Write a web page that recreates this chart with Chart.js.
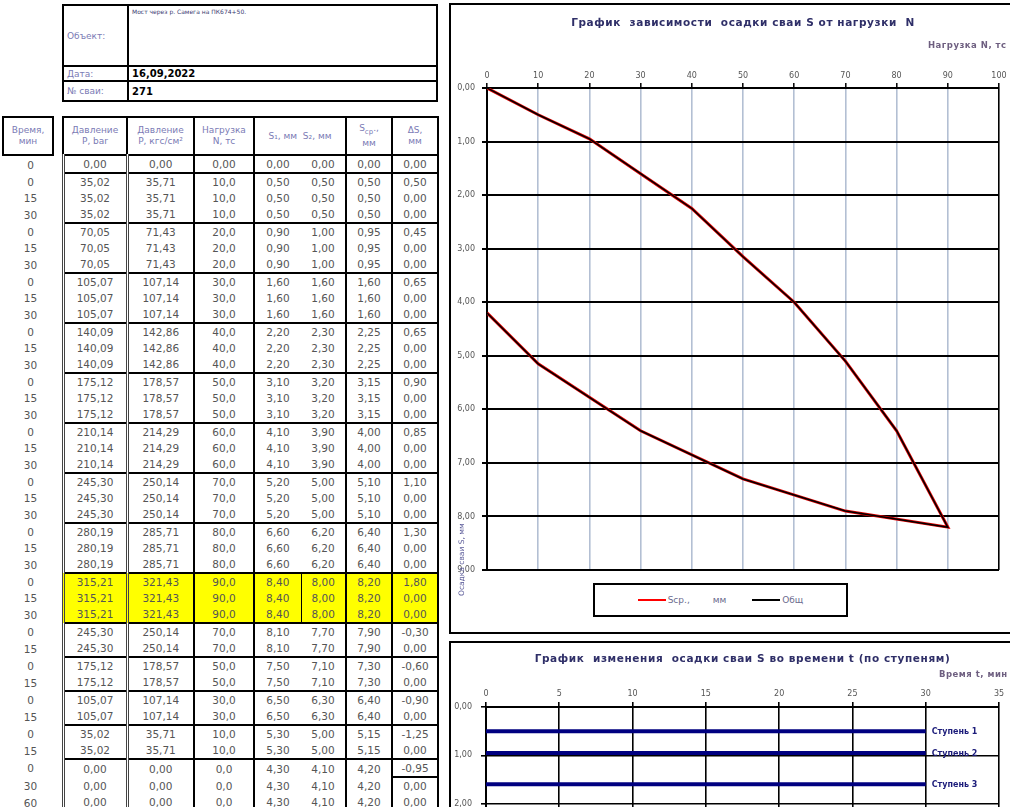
<!DOCTYPE html>
<html lang="ru">
<head>
<meta charset="utf-8">
<title>Испытание сваи № 271</title>
<script src="https://cdn.jsdelivr.net/npm/chart.js@4.4.1/dist/chart.umd.min.js"></script>
<style>
  html, body { margin:0; padding:0; background:#fff; }
  body { width:1010px; height:807px; overflow:hidden; position:relative; font-family:"DejaVu Sans", sans-serif; }
  #head { position:absolute; left:62px; top:4px; width:376px; border-collapse:collapse; table-layout:fixed; }
  #head td { border:2px solid #000; padding:0 3px; font-size:9px; color:#7b7bb5; }
  #head td.val { color:#000; font-weight:bold; font-size:10px; }
  #head td.obj { vertical-align:top; color:#3a3a70; font-size:6px; font-weight:normal; padding-top:2px; }
  #tbl { position:absolute; left:2px; top:116px; border-collapse:collapse; table-layout:fixed; font-size:10.5px; color:#555; }
  #tbl td { padding:0; height:16px; text-align:center; line-height:12px; white-space:nowrap; }
  #tbl th { font-weight:normal; color:#7b7bb5; font-size:9px; line-height:11px; border:2px solid #000; height:36px; padding:0; }
  #tbl th.gap { border:none; }
  #tbl td.t { padding-left:5px; }
  #tbl td.c1 { border-left:3px double #444; border-right:3px double #444; }
  #tbl td.c2, #tbl td.c3, #tbl td.c5, #tbl td.c6, #tbl td.c7 { border-right:2px solid #000; }
  #tbl tr.end td.d { border-bottom:2px solid #000; }
  #tbl tr.hi td.d { background:#ffff00; }
  #tbl tr.hi td.c4 { border-right:1.5px solid #000; }
  #tbl td.boxed { border-bottom:2px solid #000; }
  .box { position:absolute; border:2px solid #000; }
  #box1 { left:449px; top:3px; width:600px; height:627px; }
  #box2 { left:449px; top:641px; width:600px; height:520px; }
  #legend { position:absolute; left:593px; top:583px; width:251px; height:30px; border:2px solid #000; background:#fff;
            display:flex; align-items:center; justify-content:center; gap:26px; font-size:9px; color:#6b6b8e; }
  #legend .it { display:flex; align-items:center; white-space:pre; }
  #legend .sw { display:inline-block; width:28px; height:0; border-top:2px solid; margin-right:2px; }
</style>
</head>
<body>

<table id="head">
  <colgroup><col style="width:65px"><col></colgroup>
  <tr style="height:61px"><td>Объект:</td><td class="val obj">Мост через р. Самега на ПК674+50.</td></tr>
  <tr style="height:15px"><td>Дата:</td><td class="val">16,09,2022</td></tr>
  <tr style="height:20px"><td>№ сваи:</td><td class="val">271</td></tr>
</table>

<table id="tbl">
  <colgroup>
    <col style="width:50px"><col style="width:10px"><col style="width:64px"><col style="width:67px">
    <col style="width:60px"><col style="width:47px"><col style="width:45px"><col style="width:46px"><col style="width:46px">
  </colgroup>
  <thead>
    <tr>
      <th>Время,<br>мин</th><th class="gap"></th>
      <th>Давление<br>P, bar</th><th>Давление<br>P, кгс/см²</th><th>Нагрузка<br>N, тс</th>
      <th colspan="2">S₁, мм&nbsp; S₂, мм</th><th>S<sub style="font-size:7px">ср</sub>.,<br>мм</th><th>ΔS,<br>мм</th>
    </tr>
  </thead>
  <tbody id="rows"></tbody>
</table>

<div class="box" id="box1"><canvas id="chartLoad" width="575" height="627"></canvas></div>
<div class="box" id="box2"><canvas id="chartTime" width="575" height="520"></canvas></div>
<div id="legend"></div>

<script>
// Ступени нагружения (0 — начало, 1..9 — нагрузка, далее разгрузка)
const stageLoad  = [0, 10, 20, 30, 40, 50, 60, 70, 80, 90, 70, 50, 30, 10, 0]
const stagePBar  = [0, 35.02, 70.05, 105.07, 140.09, 175.12, 210.14, 245.30, 280.19, 315.21, 245.30, 175.12, 105.07, 35.02, 0]
const stagePKgf  = [0, 35.71, 71.43, 107.14, 142.86, 178.57, 214.29, 250.14, 285.71, 321.43, 250.14, 178.57, 107.14, 35.71, 0]
const stageS1    = [0, 0.50, 0.90, 1.60, 2.20, 3.10, 4.10, 5.20, 6.60, 8.40, 8.10, 7.50, 6.50, 5.30, 4.30]
const stageS2    = [0, 0.50, 1.00, 1.60, 2.30, 3.20, 3.90, 5.00, 6.20, 8.00, 7.70, 7.10, 6.30, 5.00, 4.10]
const stageSavg  = [0, 0.50, 0.95, 1.60, 2.25, 3.15, 4.00, 5.10, 6.40, 8.20, 7.90, 7.30, 6.40, 5.15, 4.20]
const stageDS    = [0, 0.50, 0.45, 0.65, 0.65, 0.90, 0.85, 1.10, 1.30, 1.80, -0.30, -0.60, -0.90, -1.25, -0.95]
const stageTimes = [[0], [0,15,30], [0,15,30], [0,15,30], [0,15,30], [0,15,30], [0,15,30], [0,15,30], [0,15,30], [0,15,30],
                    [0,15], [0,15], [0,15], [0,15], [0,30,60]]
const maxStage = 9 // ступень с максимальной нагрузкой (выделена)

// Оси
const loadTicks = { min: 0, max: 100, step: 10 }
const settleTicks = { min: 0, max: 9, step: 1 }
const timeTicks = { min: 0, max: 35, step: 5 }

const fmt = (v, d) => v.toFixed(d).replace('.', ',')

// Таблица
function renderTable(){
  const body = document.getElementById('rows')
  const last = stageTimes.length - 1
  let html = ''
  stageTimes.forEach((times, s) => {
    times.forEach((t, k) => {
      const cls = [k === times.length-1 ? 'end' : '', s === maxStage ? 'hi' : ''].join(' ')
      const nd = s === 0 ? 2 : 1
      const ds = k === 0 ? stageDS[s] : 0
      const dsCls = (s === last && k === 0) ? ' boxed' : ''
      html += `<tr class="${cls}"><td class="t">${t}</td><td></td>` +
        `<td class="d c1">${fmt(stagePBar[s],2)}</td><td class="d c2">${fmt(stagePKgf[s],2)}</td>` +
        `<td class="d c3">${fmt(stageLoad[s],nd)}</td><td class="d c4">${fmt(stageS1[s],2)}</td>` +
        `<td class="d c5">${fmt(stageS2[s],2)}</td><td class="d c6">${fmt(stageSavg[s],2)}</td>` +
        `<td class="d c7${dsCls}">${fmt(ds,2)}</td></tr>`
    })
  })
  body.innerHTML = html
}

// Подписи графиков
const chartText = {
  id: 'chartText',
  afterDraw(chart, args, o){
    const { ctx, chartArea: a } = chart
    ctx.save()
    ctx.textBaseline = 'middle'
    ctx.letterSpacing = '0.6px'
    ctx.font = 'bold 10.5px "DejaVu Sans"'; ctx.fillStyle = '#2f2f68'; ctx.textAlign = 'center'
    ctx.fillText(o.title, (a.left + a.right)/2, a.top - o.titleGap)
    ctx.letterSpacing = '0.5px'
    ctx.font = 'bold 8.5px "DejaVu Sans"'; ctx.fillStyle = '#6e5f80'; ctx.textAlign = 'left'
    ctx.fillText(o.axis, a.right - o.axisBack, a.top - o.axisGap)
    ctx.letterSpacing = '0px'
    if (o.yTitle){
      ctx.translate(a.left - 25, a.bottom + 26); ctx.rotate(-Math.PI/2)
      ctx.font = '7.5px "DejaVu Sans"'; ctx.fillStyle = '#5d5d9a'
      ctx.fillText(o.yTitle, 0, 0)
    }
    ctx.restore()
  }
}

// Подписи ступеней у конца линий
const stageLabels = {
  id: 'stageLabels',
  afterDatasetsDraw(chart){
    const ctx = chart.ctx
    ctx.save()
    ctx.font = 'bold 8px "DejaVu Sans"'; ctx.fillStyle = '#1c1c7a'; ctx.textBaseline = 'middle'
    chart.data.datasets.forEach((ds, i) => {
      const pts = chart.getDatasetMeta(i).data
      const p = pts[pts.length-1]
      ctx.fillText(ds.label, p.x + 6, p.y + 1)
    })
    ctx.restore()
  }
}

function tickFont(){ return { family: '"DejaVu Sans"', size: 8 } }

let chartLoad, chartTime
function renderCharts(){
  const pts = stageLoad.map((n, i) => ({ x: n, y: stageSavg[i] }))
  chartLoad = new Chart(document.getElementById('chartLoad'), {
    type: 'scatter',
    data: { datasets: [
      { label: 'Sср.,        мм', data: pts, showLine: true, borderColor: '#e00000', borderWidth: 3, pointRadius: 0, order: 2 },
      { label: 'Общ', data: pts, showLine: true, borderColor: '#000', borderWidth: 1.5, pointRadius: 0, order: 1 }
    ]},
    options: {
      responsive: false, animation: false, devicePixelRatio: 1,
      layout: { padding: { top: 65, left: 0, right: 27, bottom: 62 } },
      plugins: { legend: { display: false }, tooltip: { enabled: false },
        chartText: { title: 'График  зависимости  осадки сваи S от нагрузки  N', titleGap: 65,
                     axis: 'Нагрузка N, тс', axisBack: 71, axisGap: 42, yTitle: 'Осадка сваи S, мм' } },
      scales: {
        x: { type: 'linear', position: 'top', min: loadTicks.min, max: loadTicks.max,
             ticks: { stepSize: loadTicks.step, font: tickFont(), color: '#555', padding: 2 },
             grid: { color: c => (c.tick && (c.tick.value === loadTicks.min || c.tick.value === loadTicks.max)) ? '#000' : '#b3bfd3',
                     lineWidth: 1.6, tickColor: '#000', tickLength: 5, tickWidth: 1.5 },
             border: { color: '#000', width: 2 },
             afterFit: s => { s.height = 18 } },
        y: { type: 'linear', reverse: true, min: settleTicks.min, max: settleTicks.max,
             ticks: { stepSize: settleTicks.step, font: tickFont(), color: '#555', padding: 7, callback: v => fmt(v, 2) },
             grid: { color: '#000', lineWidth: 2, tickColor: '#000', tickLength: 5 },
             border: { color: '#000', width: 2 },
             afterFit: s => { s.width = 36 } }
      }
    },
    plugins: [chartText]
  })

  const legend = document.getElementById('legend')
  legend.innerHTML = chartLoad.data.datasets.map(d =>
    `<span class="it"><span class="sw" style="border-color:${d.borderColor === '#000' ? '#000' : '#ff0000'}"></span>${d.label}</span>`).join('')

  const stageSets = []
  for (let s = 1; s <= maxStage; s++){
    stageSets.push({ label: 'Ступень ' + s, data: stageTimes[s].map(t => ({ x: t, y: stageSavg[s] })),
      showLine: true, borderColor: '#000080', borderWidth: 4, pointRadius: 0 })
  }
  chartTime = new Chart(document.getElementById('chartTime'), {
    type: 'scatter',
    data: { datasets: stageSets },
    options: {
      responsive: false, animation: false, devicePixelRatio: 1,
      layout: { padding: { top: 46, left: 0, right: 27, bottom: 21 } },
      plugins: { legend: { display: false }, tooltip: { enabled: false },
        chartText: { title: 'График  изменения  осадки сваи S во времени t (по ступеням)', titleGap: 48,
                     axis: 'Время t, мин', axisBack: 60, axisGap: 32 } },
      scales: {
        x: { type: 'linear', position: 'top', min: timeTicks.min, max: timeTicks.max,
             ticks: { stepSize: timeTicks.step, font: tickFont(), color: '#555', padding: 3 },
             grid: { color: '#000', lineWidth: 1.6, tickColor: '#000', tickLength: 5 },
             border: { color: '#000', width: 2 },
             afterFit: s => { s.height = 18 } },
        y: { type: 'linear', reverse: true, min: settleTicks.min, max: settleTicks.max,
             ticks: { stepSize: settleTicks.step, font: tickFont(), color: '#555', padding: 9, callback: v => fmt(v, 2) },
             grid: { color: '#000', lineWidth: 1.6, tickColor: '#000', tickLength: 5 },
             border: { color: '#000', width: 2 },
             afterFit: s => { s.width = 35 } }
      }
    },
    plugins: [chartText, stageLabels]
  })
}

document.addEventListener('DOMContentLoaded', () => {
  renderTable(); renderCharts()
})
</script>
</body>
</html>
